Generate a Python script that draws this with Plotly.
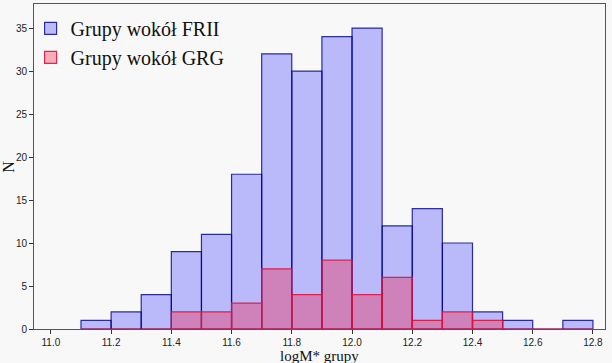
import plotly.graph_objects as go

bin_left = [11.1, 11.2, 11.3, 11.4, 11.5, 11.6, 11.7, 11.8, 11.9, 12.0, 12.1, 12.2, 12.3, 12.4, 12.5, 12.6, 12.7]
counts_frii = [1, 2, 4, 9, 11, 18, 32, 30, 34, 35, 12, 14, 10, 2, 1, 0, 1]
counts_grg = [0, 0, 0, 2, 2, 3, 7, 4, 8, 4, 6, 1, 2, 1, 0, 0, 0]
bin_width = 0.1
x_ticks = [11.0, 11.2, 11.4, 11.6, 11.8, 12.0, 12.2, 12.4, 12.6, 12.8]
y_ticks = [0, 5, 10, 15, 20, 25, 30, 35]

centers = [b + bin_width / 2 for b in bin_left]

serif = "Liberation Serif, Times New Roman, serif"
sans = "Liberation Sans, Arial, sans-serif"

fig = go.Figure()
fig.add_trace(go.Bar(
    x=centers, y=counts_frii, width=[bin_width] * len(centers),
    name="Grupy wokół FRII",
    marker=dict(color="rgba(0,0,255,0.25)", line=dict(color="rgba(0,0,139,0.8)", width=1.2)),
))
fig.add_trace(go.Bar(
    x=centers, y=counts_grg, width=[bin_width] * len(centers),
    name="Grupy wokół GRG",
    marker=dict(color="rgba(255,0,40,0.3)", line=dict(color="rgba(220,20,60,0.9)", width=1.2)),
))

fig.update_layout(
    width=612, height=363,
    barmode="overlay",
    paper_bgcolor="#f8f8f8", plot_bgcolor="#f8f8f8",
    margin=dict(l=34, r=7, t=4, b=34, autoexpand=False),
    showlegend=True,
    legend=dict(x=-0.006, y=0.985, xanchor="left", yanchor="top",
                bgcolor="rgba(0,0,0,0)",
                font=dict(family=serif, size=20, color="#111"),
                tracegroupgap=0),
    xaxis=dict(range=[10.944, 12.84], tickvals=x_ticks, ticktext=[f"{v:.1f}" for v in x_ticks],
               automargin=False,
               ticks="outside", ticklen=4, tickcolor="#333", showgrid=False, zeroline=False,
               showline=True, linecolor="#555", linewidth=1, mirror=True,
               tickfont=dict(family=sans, size=10, color="#222")),
    yaxis=dict(range=[0, 37.8], tickvals=y_ticks, automargin=False,
               ticks="outside", ticklen=4, tickcolor="#333", showgrid=False, zeroline=False,
               showline=True, linecolor="#555", linewidth=1, mirror=True,
               tickfont=dict(family=sans, size=10, color="#222")),
    annotations=[
        dict(text="logM* grupy", xref="paper", yref="paper", x=0.5, y=-0.083,
             xanchor="center", yanchor="middle", showarrow=False,
             font=dict(family=serif, size=15, color="#111")),
        dict(text="N", xref="paper", yref="paper", x=-0.045, y=0.5, textangle=-90,
             xanchor="center", yanchor="middle", showarrow=False,
             font=dict(family=serif, size=16, color="#111")),
    ],
)

fig.write_html("out.html", config={"displayModeBar": False},
               post_script="document.body.style.margin='0';document.body.style.background='#f8f8f8';")
